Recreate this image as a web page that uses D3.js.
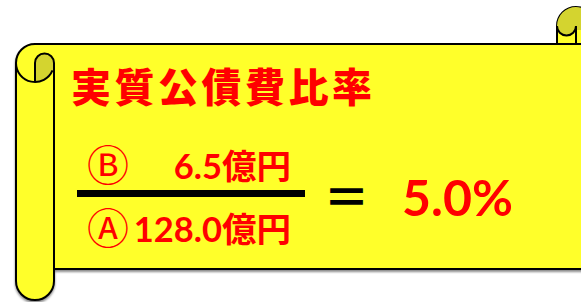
<!DOCTYPE html>
<html>
<head>
<meta charset="utf-8">
<script src="https://cdn.jsdelivr.net/npm/d3@7"></script>
<style>
  body { margin: 0; background: #fff; }
</style>
</head>
<body>
<div id="chart"></div>
<script>
// Values
const titleText = ["実質公債費比率"];
const rowLabels = ["Ⓑ", "Ⓐ"];
const amounts = [6.5, 128.0];
const units = ["億円", "億円"];
const ratios = [5.0];

const W = 581, H = 302;
const yellow = "#ffff29", dark = "#d4d42f", red = "#ff0000";
const cjk = "'Noto Sans CJK JP', sans-serif";
const latin = "Lato, 'Noto Sans CJK JP', sans-serif";

const svg = d3.select("#chart").append("svg")
    .attr("width", W)
    .attr("height", H);

const defs = svg.append("defs");
defs.append("filter").attr("id", "shadow")
    .attr("x", "-10%").attr("y", "-10%").attr("width", "130%").attr("height", "130%")
  .append("feDropShadow")
    .attr("dx", 0).attr("dy", 2).attr("stdDeviation", 0.8)
    .attr("flood-color", "#000").attr("flood-opacity", 0.45);

// ---- scroll shape ----
const scroll = svg.append("g");

// right roll head (behind the body)
const rr = 19, rcx = 576, rcy = 26;
let p = d3.path();
p.moveTo(rcx - rr, 46);
p.lineTo(rcx - rr, rcy);
p.arc(rcx, rcy, rr, Math.PI, 2 * Math.PI);
p.lineTo(rcx + rr, 46);
p.closePath();
scroll.append("path").attr("d", p.toString())
    .attr("fill", yellow).attr("stroke", "#000").attr("stroke-width", 2);

// dark curl on the right
p = d3.path();
p.moveTo(rcx - rr, rcy);
p.arc(rcx, rcy, rr, Math.PI, 2 * Math.PI);
p.lineTo(rcx + rr, 30);
p.lineTo(rcx, 30);
p.lineTo(rcx, rcy);
p.arc(rcx - rr / 2, rcy, rr / 2, 0, Math.PI);
p.closePath();
scroll.append("path").attr("d", p.toString()).attr("fill", dark);

p = d3.path();
p.moveTo(rcx - rr, rcy);
p.arc(rcx - rr / 2, rcy, rr / 2, Math.PI, 0, true);
p.lineTo(rcx, 45);
scroll.append("path").attr("d", p.toString())
    .attr("fill", "none").attr("stroke", "#000").attr("stroke-width", 2);

// body + left roll outline
const lr = 19, lcx = 35, lcy = 63, bodyTop = 44, bodyBottom = 269, lx = lcx + lr;
p = d3.path();
p.moveTo(lcx, bodyTop);
p.lineTo(640, bodyTop);
p.lineTo(640, bodyBottom);
p.lineTo(lx, bodyBottom);
p.lineTo(lx, 281);
p.arc(lcx, 281, lr, 0, Math.PI);
p.lineTo(lcx - lr, lcy);
p.arc(lcx, lcy, lr, Math.PI, 1.5 * Math.PI);
p.closePath();
scroll.append("path").attr("d", p.toString())
    .attr("fill", yellow).attr("stroke", "#000").attr("stroke-width", 2)
    .attr("filter", "url(#shadow)");

// dark curl on the left
const a1 = 0.4;
p = d3.path();
p.moveTo(lcx, lcy + lr);
p.lineTo(lcx, lcy);
p.arc(lcx + lr / 2, lcy, lr / 2, Math.PI, 2 * Math.PI);
p.lineTo(lx, lcy + lr * Math.sin(a1));
p.arc(lcx, lcy, lr, a1, Math.PI / 2);
p.closePath();
scroll.append("path").attr("d", p.toString()).attr("fill", dark);

p = d3.path();
p.moveTo(lcx - lr, lcy);
p.arc(lcx, lcy, lr, Math.PI, a1, true);
scroll.append("path").attr("d", p.toString())
    .attr("fill", "none").attr("stroke", "#000").attr("stroke-width", 2);

p = d3.path();
p.moveTo(lcx, lcy + lr);
p.lineTo(lcx, lcy);
p.arc(lcx + lr / 2, lcy, lr / 2, Math.PI, 2 * Math.PI);
p.lineTo(lx, bodyBottom);
scroll.append("path").attr("d", p.toString())
    .attr("fill", "none").attr("stroke", "#000").attr("stroke-width", 2);

// ---- text ----
svg.selectAll("text.title")
  .data(titleText)
  .join("text")
    .attr("class", "title")
    .attr("x", 71)
    .attr("y", 102)
    .attr("fill", red)
    .style("font-family", cjk)
    .style("font-weight", 900)
    .style("font-size", "40px")
    .style("letter-spacing", "3.5px")
    .text(d => d);

const rowY = d3.scalePoint()
    .domain(rowLabels)
    .range([179, 242]);

const rows = rowLabels.map((label, i) => ({ label, amount: amounts[i], unit: units[i] }));
const fmt = d3.format(".1f");

svg.selectAll("text.label")
  .data(rows)
  .join("text")
    .attr("class", "label")
    .attr("x", 87)
    .attr("y", d => rowY(d.label) + 2)
    .attr("fill", red)
    .style("font-family", cjk)
    .style("font-weight", 400)
    .style("font-size", "42px")
    .text(d => d.label);

svg.selectAll("text.amount")
  .data(rows)
  .join("text")
    .attr("class", "amount")
    .attr("x", 291)
    .attr("y", d => rowY(d.label))
    .attr("text-anchor", "end")
    .attr("fill", red)
    .style("font-family", latin)
    .style("font-weight", 700)
    .style("font-size", "34.5px")
    .text(d => fmt(d.amount) + d.unit);

// fraction bar
svg.append("rect")
    .attr("x", 77).attr("y", 190)
    .attr("width", 228).attr("height", 7)
    .attr("fill", "#000");

svg.append("text")
    .attr("x", 346.5)
    .attr("y", 214)
    .attr("text-anchor", "middle")
    .attr("fill", "#000")
    .style("font-family", cjk)
    .style("font-weight", 700)
    .style("font-size", "46px")
    .text("＝");

svg.selectAll("text.ratio")
  .data(ratios)
  .join("text")
    .attr("class", "ratio")
    .attr("x", 402)
    .attr("y", 215.5)
    .attr("fill", red)
    .style("font-family", latin)
    .style("font-weight", 700)
    .style("font-size", "50px")
    .text(d => fmt(d) + "%");
</script>
</body>
</html>
